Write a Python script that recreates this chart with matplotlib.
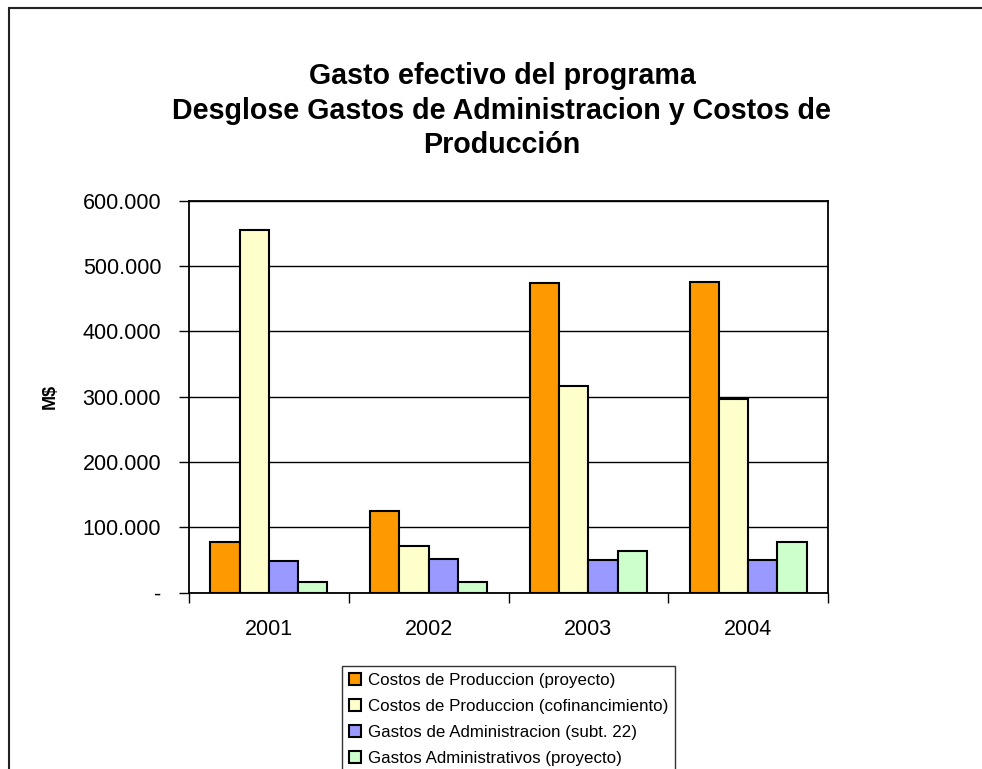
import numpy as np
import matplotlib
matplotlib.use("Agg")
import matplotlib.pyplot as plt
from matplotlib.patches import Rectangle
from matplotlib.ticker import FuncFormatter

plt.rcParams['font.family'] = ['Liberation Sans', 'DejaVu Sans']

years = ['2001', '2002', '2003', '2004']
series = ['Costos de Produccion (proyecto)',
          'Costos de Produccion (cofinancimiento)',
          'Gastos de Administracion (subt. 22)',
          'Gastos Administrativos (proyecto)']
prod_proyecto = [78000, 125000, 474000, 475000]
prod_cofin = [555000, 72000, 316000, 297000]
admin_subt22 = [48000, 51000, 50000, 50000]
admin_proyecto = [17000, 17000, 64000, 78000]
colors = ['#FF9900', '#FFFFCC', '#9999FF', '#CCFFCC']

values = [prod_proyecto, prod_cofin, admin_subt22, admin_proyecto]

fig = plt.figure(figsize=(9.82, 7.69), dpi=100)
ax = fig.add_axes([189/982, 1-592.7/769, 639/982, 392/769])

x = np.arange(len(years))
w = 0.183
for i, (vals, lab, c) in enumerate(zip(values, series, colors)):
    ax.bar(x + (i-1.5)*w, vals, w, color=c, edgecolor='black', linewidth=1.5, label=lab, zorder=3)

ax.set_xlim(-0.5, 3.5)
ax.set_ylim(0, 600000)
ax.set_yticks(np.arange(0, 600001, 100000))
ax.yaxis.set_major_formatter(FuncFormatter(lambda v, p: '-' if v == 0 else f'{int(v):,}'.replace(',', '.')))
ax.set_xticks(np.arange(-0.5, 3.6, 1))
ax.set_xticklabels([])
ax.set_xticks(x, minor=True)
ax.set_xticklabels(years, minor=True)
ax.tick_params(axis='x', which='major', length=7, width=1, direction='out')
ax.tick_params(axis='x', which='minor', length=0, pad=19, labelsize=15.5)
ax.tick_params(axis='y', length=7, width=1, direction='out', labelsize=15.5, pad=13)
ax.yaxis.grid(True, color='black', linewidth=1, zorder=0)
for s in ax.spines.values():
    s.set_linewidth(1.3)
    s.set_color('black')

ax.set_ylabel('M$', fontsize=13, fontweight='bold', labelpad=17)

fig.text(502/982, 1-62/769, 'Gasto efectivo del programa\nDesglose Gastos de Administracion y Costos de\nProducción',
         ha='center', va='top', fontsize=20.6, fontweight='bold', linespacing=1.3)

handles, labels = ax.get_legend_handles_labels()
leg = fig.legend(handles, labels, loc='upper left', bbox_to_anchor=(342/982, 1-666/769),
                 borderaxespad=0, fontsize=12.2, fancybox=False, frameon=True,
                 handlelength=0.75, handleheight=0.75, handletextpad=0.4,
                 labelspacing=0.64, borderpad=0.4)
leg.get_frame().set_edgecolor('black')
leg.get_frame().set_linewidth(1)

fig.patches.append(Rectangle((9/982, -0.1), 1.2, 1-8/769+0.1, transform=fig.transFigure,
                             fill=False, edgecolor='#222222', linewidth=1.5))

plt.savefig('out.png', dpi=100)
